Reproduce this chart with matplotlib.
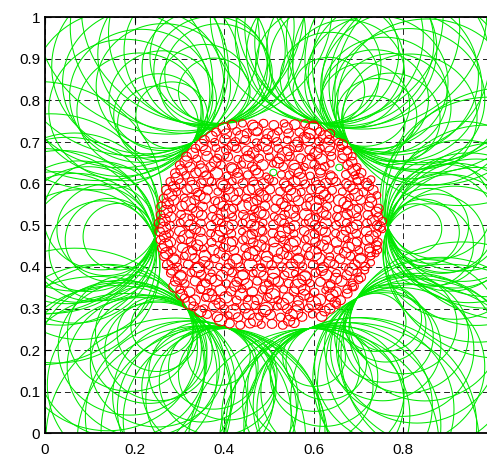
import numpy as np
import matplotlib
matplotlib.use('Agg')
import matplotlib.pyplot as plt
from matplotlib.collections import LineCollection

# corners of the red region where the green circles touch it
corner_x = [0.766, 0.680, 0.620, 0.400, 0.330, 0.245, 0.317, 0.410, 0.590, 0.697]
corner_y = [0.494, 0.696, 0.745, 0.745, 0.700, 0.470, 0.300, 0.252, 0.252, 0.325]

# green circles: (corner index, direction of centre in degrees, radius)
green_circles = [
    (0, -22, 0.16), (0, -15, 0.11), (0, -10, 0.20), (0, -5, 0.14), (0, 0, 0.18), (0, 3, 0.09),
    (0, 7, 0.22), (0, 10, 0.13), (0, 14, 0.17), (0, 18, 0.24), (0, 22, 0.12), (0, -18, 0.21),
    (0, -2, 0.06), (0, 5, 0.12), (0, -8, 0.08), (0, 12, 0.28), (0, -12, 0.26), (0, 2, 0.15),
    (0, -25, 0.10), (0, 25, 0.18),
    (1, 26, 0.15), (1, 30, 0.20), (1, 33, 0.11), (1, 36, 0.24), (1, 39, 0.17), (1, 42, 0.13),
    (1, 45, 0.21), (1, 48, 0.09), (1, 50, 0.18), (1, 53, 0.25), (1, 56, 0.14), (1, 59, 0.19),
    (1, 62, 0.12), (1, 65, 0.22), (1, 68, 0.16), (1, 70, 0.10),
    (1, 28, 0.28), (1, 40, 0.07), (1, 58, 0.30), (1, 47, 0.26),
    (2, 66, 0.13), (2, 70, 0.19), (2, 74, 0.24), (2, 78, 0.15), (2, 82, 0.11), (2, 86, 0.21),
    (2, 90, 0.17), (2, 94, 0.14), (2, 72, 0.28), (2, 80, 0.08), (2, 88, 0.26), (2, 76, 0.20),
    (3, 92, 0.16), (3, 96, 0.12), (3, 100, 0.22), (3, 104, 0.18), (3, 108, 0.14), (3, 112, 0.25),
    (3, 116, 0.10), (3, 119, 0.19), (3, 98, 0.28), (3, 106, 0.08), (3, 114, 0.30), (3, 102, 0.13),
    (4, 116, 0.15), (4, 120, 0.21), (4, 124, 0.12), (4, 128, 0.18), (4, 132, 0.24), (4, 136, 0.16),
    (4, 140, 0.10), (4, 144, 0.20), (4, 148, 0.14), (4, 153, 0.17),
    (4, 118, 0.28), (4, 126, 0.08), (4, 138, 0.28), (4, 150, 0.09), (4, 146, 0.26),
    (5, 156, 0.13), (5, 161, 0.19), (5, 166, 0.24), (5, 170, 0.11), (5, 175, 0.17), (5, 180, 0.21),
    (5, 185, 0.14), (5, 190, 0.26), (5, 195, 0.12), (5, 201, 0.18),
    (5, 178, 0.08), (5, 172, 0.15), (5, 183, 0.10), (5, 168, 0.20), (5, 188, 0.18), (5, 198, 0.23),
    (5, 160, 0.28),
    (6, 205, 0.14), (6, 208, 0.20), (6, 211, 0.11), (6, 214, 0.24), (6, 217, 0.16), (6, 220, 0.19),
    (6, 223, 0.09), (6, 226, 0.22), (6, 229, 0.13), (6, 232, 0.26), (6, 235, 0.17), (6, 238, 0.12),
    (6, 241, 0.21), (6, 244, 0.15), (6, 210, 0.29), (6, 218, 0.07), (6, 228, 0.30), (6, 240, 0.27),
    (7, 241, 0.12), (7, 244, 0.18), (7, 247, 0.23), (7, 250, 0.10), (7, 253, 0.15), (7, 256, 0.20),
    (7, 259, 0.13), (7, 262, 0.25), (7, 265, 0.17), (7, 269, 0.11),
    (7, 246, 0.29), (7, 252, 0.07), (7, 258, 0.28), (7, 266, 0.22),
    (8, 271, 0.14), (8, 274, 0.21), (8, 277, 0.10), (8, 280, 0.18), (8, 283, 0.24), (8, 286, 0.12),
    (8, 289, 0.16), (8, 292, 0.20), (8, 295, 0.09), (8, 298, 0.22),
    (8, 272, 0.28), (8, 279, 0.07), (8, 288, 0.29), (8, 296, 0.26),
    (9, 296, 0.13), (9, 300, 0.19), (9, 303, 0.11), (9, 306, 0.24), (9, 309, 0.16), (9, 312, 0.21),
    (9, 315, 0.09), (9, 318, 0.18), (9, 321, 0.14), (9, 325, 0.23), (9, 329, 0.12), (9, 333, 0.17),
    (9, 298, 0.28), (9, 304, 0.07), (9, 314, 0.29), (9, 323, 0.08), (9, 330, 0.27),
]

# two small green circles inside the red region
green_small = [(0.510, 0.627, 0.008), (0.657, 0.639, 0.008)]

# red circles (x, y, r), row by row from bottom to top
red_circles = [
    (0.412, 0.264, 0.011), (0.436, 0.260, 0.010), (0.458, 0.265, 0.012), (0.483, 0.261, 0.009),
    (0.507, 0.263, 0.011), (0.531, 0.260, 0.010), (0.556, 0.266, 0.012),
    (0.362, 0.286, 0.010), (0.385, 0.280, 0.012), (0.410, 0.284, 0.008), (0.431, 0.279, 0.011),
    (0.455, 0.286, 0.013), (0.479, 0.281, 0.009), (0.503, 0.285, 0.012), (0.526, 0.279, 0.010),
    (0.550, 0.284, 0.014), (0.574, 0.280, 0.011), (0.597, 0.286, 0.009), (0.618, 0.281, 0.012),
    (0.332, 0.305, 0.011), (0.355, 0.300, 0.009), (0.378, 0.306, 0.013), (0.401, 0.299, 0.010),
    (0.425, 0.304, 0.008), (0.447, 0.301, 0.012), (0.470, 0.307, 0.010), (0.494, 0.300, 0.015),
    (0.519, 0.305, 0.009), (0.541, 0.299, 0.011), (0.565, 0.306, 0.013), (0.589, 0.301, 0.010),
    (0.612, 0.304, 0.008), (0.636, 0.300, 0.012), (0.651, 0.309, 0.009),
    (0.312, 0.325, 0.010), (0.334, 0.320, 0.013), (0.358, 0.326, 0.009), (0.381, 0.321, 0.011),
    (0.404, 0.327, 0.014), (0.428, 0.320, 0.010), (0.452, 0.324, 0.008), (0.474, 0.321, 0.012),
    (0.497, 0.327, 0.010), (0.520, 0.320, 0.009), (0.543, 0.325, 0.013), (0.566, 0.319, 0.011),
    (0.590, 0.326, 0.010), (0.613, 0.321, 0.014), (0.637, 0.326, 0.009), (0.660, 0.320, 0.011),
    (0.301, 0.345, 0.009), (0.323, 0.340, 0.012), (0.347, 0.346, 0.010), (0.370, 0.339, 0.008),
    (0.392, 0.344, 0.013), (0.416, 0.341, 0.011), (0.440, 0.347, 0.009), (0.463, 0.340, 0.012),
    (0.486, 0.345, 0.010), (0.509, 0.339, 0.016), (0.533, 0.346, 0.009), (0.556, 0.341, 0.011),
    (0.579, 0.345, 0.013), (0.602, 0.339, 0.010), (0.626, 0.344, 0.008), (0.650, 0.340, 0.012),
    (0.675, 0.346, 0.010), (0.688, 0.352, 0.008),
    (0.291, 0.365, 0.011), (0.313, 0.360, 0.009), (0.336, 0.366, 0.012), (0.359, 0.361, 0.010),
    (0.382, 0.367, 0.014), (0.405, 0.360, 0.009), (0.428, 0.364, 0.011), (0.451, 0.359, 0.013),
    (0.474, 0.366, 0.010), (0.498, 0.361, 0.008), (0.521, 0.365, 0.012), (0.544, 0.360, 0.010),
    (0.568, 0.366, 0.015), (0.592, 0.361, 0.009), (0.615, 0.364, 0.011), (0.638, 0.359, 0.010),
    (0.662, 0.366, 0.013), (0.686, 0.362, 0.009), (0.700, 0.370, 0.010),
    (0.281, 0.385, 0.010), (0.303, 0.380, 0.012), (0.326, 0.386, 0.009), (0.349, 0.381, 0.011),
    (0.372, 0.385, 0.008), (0.395, 0.379, 0.013), (0.418, 0.386, 0.010), (0.442, 0.381, 0.012),
    (0.465, 0.385, 0.009), (0.488, 0.379, 0.011), (0.511, 0.386, 0.014), (0.535, 0.380, 0.010),
    (0.558, 0.384, 0.008), (0.581, 0.379, 0.012), (0.604, 0.386, 0.010), (0.628, 0.381, 0.013),
    (0.651, 0.385, 0.009), (0.674, 0.380, 0.011), (0.697, 0.386, 0.010), (0.714, 0.392, 0.009),
    (0.274, 0.405, 0.012), (0.297, 0.400, 0.009), (0.320, 0.406, 0.011), (0.343, 0.399, 0.013),
    (0.366, 0.404, 0.010), (0.389, 0.401, 0.008), (0.412, 0.407, 0.012), (0.436, 0.400, 0.010),
    (0.459, 0.405, 0.015), (0.483, 0.399, 0.009), (0.506, 0.404, 0.011), (0.529, 0.400, 0.010),
    (0.552, 0.406, 0.013), (0.576, 0.401, 0.009), (0.599, 0.405, 0.011), (0.622, 0.399, 0.012),
    (0.646, 0.406, 0.010), (0.669, 0.400, 0.008), (0.692, 0.405, 0.012), (0.715, 0.401, 0.010),
    (0.728, 0.410, 0.008),
    (0.266, 0.425, 0.010), (0.288, 0.420, 0.012), (0.311, 0.426, 0.009), (0.334, 0.421, 0.011),
    (0.357, 0.427, 0.013), (0.380, 0.420, 0.010), (0.403, 0.424, 0.009), (0.427, 0.419, 0.012),
    (0.450, 0.426, 0.010), (0.473, 0.421, 0.008), (0.496, 0.425, 0.013), (0.520, 0.420, 0.011),
    (0.543, 0.426, 0.009), (0.566, 0.421, 0.012), (0.589, 0.427, 0.010), (0.612, 0.420, 0.014),
    (0.636, 0.425, 0.009), (0.659, 0.419, 0.011), (0.682, 0.426, 0.010), (0.705, 0.421, 0.012),
    (0.728, 0.426, 0.009), (0.738, 0.432, 0.008),
    (0.262, 0.445, 0.011), (0.284, 0.440, 0.009), (0.307, 0.446, 0.012), (0.330, 0.439, 0.010),
    (0.353, 0.444, 0.008), (0.376, 0.441, 0.013), (0.399, 0.447, 0.010), (0.422, 0.440, 0.011),
    (0.446, 0.445, 0.009), (0.469, 0.439, 0.012), (0.492, 0.446, 0.010), (0.515, 0.441, 0.016),
    (0.539, 0.445, 0.009), (0.562, 0.440, 0.011), (0.585, 0.446, 0.010), (0.608, 0.439, 0.008),
    (0.632, 0.444, 0.012), (0.655, 0.441, 0.010), (0.678, 0.447, 0.013), (0.701, 0.440, 0.009),
    (0.724, 0.445, 0.011), (0.742, 0.441, 0.010),
    (0.258, 0.465, 0.010), (0.280, 0.460, 0.012), (0.303, 0.466, 0.009), (0.326, 0.461, 0.011),
    (0.349, 0.465, 0.014), (0.372, 0.459, 0.010), (0.395, 0.466, 0.008), (0.419, 0.461, 0.012),
    (0.442, 0.465, 0.010), (0.465, 0.459, 0.011), (0.488, 0.466, 0.009), (0.511, 0.460, 0.012),
    (0.534, 0.465, 0.010), (0.558, 0.461, 0.013), (0.581, 0.466, 0.009), (0.604, 0.460, 0.011),
    (0.628, 0.465, 0.010), (0.651, 0.459, 0.012), (0.674, 0.466, 0.008), (0.697, 0.461, 0.011),
    (0.720, 0.465, 0.013), (0.743, 0.460, 0.010),
    (0.256, 0.485, 0.011), (0.278, 0.480, 0.009), (0.301, 0.486, 0.012), (0.324, 0.479, 0.010),
    (0.347, 0.484, 0.011), (0.370, 0.481, 0.009), (0.393, 0.487, 0.013), (0.416, 0.480, 0.010),
    (0.440, 0.485, 0.008), (0.463, 0.479, 0.012), (0.486, 0.486, 0.010), (0.509, 0.481, 0.011),
    (0.533, 0.485, 0.015), (0.556, 0.480, 0.009), (0.579, 0.486, 0.011), (0.602, 0.479, 0.010),
    (0.626, 0.484, 0.012), (0.649, 0.481, 0.009), (0.672, 0.487, 0.011), (0.695, 0.480, 0.010),
    (0.718, 0.485, 0.012), (0.741, 0.481, 0.009), (0.753, 0.490, 0.008),
    (0.256, 0.505, 0.012), (0.279, 0.500, 0.010), (0.302, 0.506, 0.009), (0.325, 0.501, 0.013),
    (0.348, 0.505, 0.010), (0.371, 0.499, 0.011), (0.394, 0.506, 0.009), (0.418, 0.501, 0.012),
    (0.441, 0.505, 0.010), (0.464, 0.500, 0.014), (0.487, 0.506, 0.009), (0.510, 0.501, 0.011),
    (0.534, 0.505, 0.010), (0.557, 0.499, 0.012), (0.580, 0.506, 0.008), (0.603, 0.501, 0.011),
    (0.627, 0.505, 0.013), (0.650, 0.500, 0.010), (0.673, 0.506, 0.009), (0.696, 0.501, 0.012),
    (0.719, 0.505, 0.010), (0.742, 0.500, 0.011), (0.754, 0.510, 0.009),
    (0.258, 0.525, 0.010), (0.281, 0.520, 0.012), (0.304, 0.526, 0.010), (0.327, 0.519, 0.008),
    (0.350, 0.524, 0.012), (0.373, 0.521, 0.010), (0.396, 0.527, 0.013), (0.419, 0.520, 0.009),
    (0.443, 0.525, 0.011), (0.466, 0.519, 0.010), (0.489, 0.526, 0.012), (0.512, 0.521, 0.009),
    (0.535, 0.525, 0.011), (0.559, 0.520, 0.010), (0.582, 0.526, 0.014), (0.605, 0.519, 0.009),
    (0.628, 0.524, 0.011), (0.652, 0.521, 0.010), (0.675, 0.527, 0.012), (0.698, 0.520, 0.009),
    (0.721, 0.525, 0.011), (0.744, 0.520, 0.010),
    (0.260, 0.545, 0.011), (0.283, 0.540, 0.009), (0.306, 0.546, 0.012), (0.329, 0.541, 0.010),
    (0.352, 0.545, 0.011), (0.375, 0.539, 0.009), (0.398, 0.546, 0.012), (0.421, 0.541, 0.010),
    (0.445, 0.545, 0.016), (0.468, 0.539, 0.009), (0.491, 0.546, 0.011), (0.514, 0.541, 0.010),
    (0.537, 0.545, 0.012), (0.560, 0.540, 0.008), (0.584, 0.546, 0.011), (0.607, 0.541, 0.013),
    (0.630, 0.545, 0.010), (0.653, 0.539, 0.009), (0.676, 0.546, 0.012), (0.700, 0.541, 0.010),
    (0.723, 0.545, 0.011), (0.745, 0.541, 0.010),
    (0.265, 0.565, 0.010), (0.288, 0.560, 0.012), (0.311, 0.566, 0.009), (0.334, 0.561, 0.011),
    (0.357, 0.565, 0.013), (0.380, 0.559, 0.010), (0.403, 0.566, 0.009), (0.427, 0.561, 0.012),
    (0.450, 0.565, 0.010), (0.473, 0.560, 0.011), (0.496, 0.566, 0.009), (0.519, 0.561, 0.013),
    (0.542, 0.565, 0.010), (0.566, 0.559, 0.012), (0.589, 0.566, 0.009), (0.612, 0.561, 0.011),
    (0.635, 0.565, 0.010), (0.658, 0.560, 0.014), (0.681, 0.566, 0.009), (0.705, 0.561, 0.011),
    (0.728, 0.565, 0.010), (0.741, 0.572, 0.009),
    (0.271, 0.585, 0.011), (0.294, 0.580, 0.009), (0.317, 0.586, 0.012), (0.340, 0.579, 0.010),
    (0.363, 0.584, 0.011), (0.386, 0.581, 0.009), (0.409, 0.587, 0.012), (0.432, 0.580, 0.010),
    (0.456, 0.585, 0.013), (0.479, 0.579, 0.009), (0.502, 0.586, 0.011), (0.525, 0.581, 0.010),
    (0.548, 0.585, 0.012), (0.572, 0.580, 0.009), (0.595, 0.586, 0.011), (0.618, 0.579, 0.015),
    (0.641, 0.584, 0.010), (0.664, 0.581, 0.009), (0.688, 0.587, 0.012), (0.711, 0.580, 0.010),
    (0.733, 0.585, 0.011),
    (0.280, 0.605, 0.010), (0.303, 0.600, 0.012), (0.326, 0.606, 0.009), (0.349, 0.601, 0.011),
    (0.372, 0.605, 0.010), (0.395, 0.599, 0.013), (0.418, 0.606, 0.009), (0.442, 0.601, 0.011),
    (0.465, 0.605, 0.010), (0.488, 0.600, 0.012), (0.511, 0.606, 0.009), (0.534, 0.601, 0.011),
    (0.557, 0.605, 0.013), (0.581, 0.599, 0.010), (0.604, 0.606, 0.009), (0.627, 0.601, 0.012),
    (0.650, 0.605, 0.010), (0.673, 0.600, 0.011), (0.697, 0.606, 0.009), (0.718, 0.601, 0.012),
    (0.728, 0.610, 0.009),
    (0.291, 0.625, 0.011), (0.314, 0.620, 0.009), (0.337, 0.626, 0.012), (0.360, 0.621, 0.010),
    (0.383, 0.625, 0.014), (0.406, 0.619, 0.009), (0.430, 0.626, 0.011), (0.453, 0.621, 0.010),
    (0.476, 0.625, 0.012), (0.494, 0.618, 0.008), (0.528, 0.622, 0.009), (0.546, 0.621, 0.010),
    (0.569, 0.625, 0.013), (0.592, 0.619, 0.009), (0.615, 0.626, 0.011), (0.638, 0.621, 0.010),
    (0.672, 0.622, 0.010), (0.692, 0.620, 0.009), (0.706, 0.626, 0.011),
    (0.301, 0.645, 0.010), (0.324, 0.640, 0.012), (0.347, 0.646, 0.009), (0.370, 0.641, 0.011),
    (0.393, 0.645, 0.010), (0.416, 0.639, 0.012), (0.439, 0.646, 0.009), (0.463, 0.641, 0.011),
    (0.486, 0.645, 0.013), (0.509, 0.648, 0.008), (0.532, 0.641, 0.010), (0.556, 0.645, 0.012),
    (0.579, 0.640, 0.009), (0.602, 0.646, 0.011), (0.625, 0.641, 0.010), (0.638, 0.648, 0.008),
    (0.676, 0.645, 0.011), (0.697, 0.640, 0.009),
    (0.316, 0.665, 0.011), (0.339, 0.660, 0.009), (0.362, 0.666, 0.012), (0.385, 0.661, 0.010),
    (0.408, 0.665, 0.011), (0.431, 0.659, 0.009), (0.455, 0.666, 0.013), (0.478, 0.661, 0.010),
    (0.501, 0.665, 0.009), (0.524, 0.660, 0.012), (0.547, 0.666, 0.010), (0.571, 0.661, 0.011),
    (0.594, 0.665, 0.009), (0.617, 0.659, 0.013), (0.640, 0.666, 0.010), (0.664, 0.661, 0.011),
    (0.686, 0.666, 0.009),
    (0.336, 0.685, 0.010), (0.359, 0.680, 0.012), (0.382, 0.686, 0.009), (0.405, 0.681, 0.011),
    (0.428, 0.685, 0.010), (0.451, 0.679, 0.012), (0.475, 0.686, 0.009), (0.498, 0.681, 0.011),
    (0.521, 0.685, 0.010), (0.544, 0.680, 0.013), (0.568, 0.686, 0.009), (0.591, 0.681, 0.011),
    (0.614, 0.685, 0.010), (0.637, 0.679, 0.012), (0.660, 0.686, 0.009), (0.675, 0.680, 0.010),
    (0.356, 0.705, 0.011), (0.379, 0.700, 0.009), (0.402, 0.706, 0.012), (0.425, 0.701, 0.010),
    (0.448, 0.705, 0.011), (0.472, 0.699, 0.009), (0.495, 0.706, 0.012), (0.518, 0.701, 0.010),
    (0.541, 0.705, 0.009), (0.565, 0.700, 0.012), (0.588, 0.706, 0.015), (0.612, 0.701, 0.010),
    (0.635, 0.705, 0.011), (0.656, 0.700, 0.009),
    (0.382, 0.724, 0.010), (0.405, 0.720, 0.012), (0.428, 0.726, 0.009), (0.451, 0.721, 0.011),
    (0.474, 0.725, 0.010), (0.498, 0.720, 0.012), (0.521, 0.726, 0.009), (0.544, 0.721, 0.011),
    (0.568, 0.724, 0.010), (0.591, 0.720, 0.013), (0.614, 0.725, 0.010), (0.636, 0.720, 0.011),
    (0.418, 0.742, 0.011), (0.441, 0.745, 0.009), (0.464, 0.741, 0.012), (0.488, 0.745, 0.010),
    (0.511, 0.741, 0.011), (0.534, 0.745, 0.009), (0.558, 0.742, 0.012), (0.581, 0.744, 0.010),
    (0.600, 0.740, 0.011),
]

# second layer of larger red circles lying between the rows
red_extra = [
    (0.392, 0.272, 0.014), (0.470, 0.273, 0.016), (0.545, 0.271, 0.013),
    (0.347, 0.293, 0.013), (0.420, 0.292, 0.017), (0.490, 0.294, 0.014), (0.560, 0.291, 0.016),
    (0.625, 0.294, 0.012),
    (0.322, 0.313, 0.015), (0.390, 0.312, 0.013), (0.460, 0.314, 0.018), (0.531, 0.311, 0.014),
    (0.600, 0.313, 0.016), (0.648, 0.315, 0.012),
    (0.305, 0.333, 0.013), (0.368, 0.332, 0.016), (0.438, 0.334, 0.014), (0.508, 0.331, 0.017),
    (0.578, 0.333, 0.013), (0.640, 0.332, 0.015), (0.675, 0.336, 0.011),
    (0.290, 0.353, 0.014), (0.356, 0.352, 0.017), (0.425, 0.354, 0.013), (0.495, 0.351, 0.015),
    (0.565, 0.353, 0.018), (0.635, 0.352, 0.013), (0.688, 0.354, 0.012),
    (0.302, 0.373, 0.016), (0.370, 0.372, 0.013), (0.440, 0.374, 0.017), (0.510, 0.371, 0.014),
    (0.580, 0.373, 0.016), (0.650, 0.372, 0.013), (0.705, 0.375, 0.011),
    (0.285, 0.393, 0.013), (0.340, 0.392, 0.017), (0.408, 0.394, 0.014), (0.478, 0.391, 0.016),
    (0.548, 0.393, 0.019), (0.618, 0.392, 0.013), (0.684, 0.394, 0.015),
    (0.288, 0.413, 0.016), (0.356, 0.412, 0.013), (0.425, 0.414, 0.017), (0.495, 0.411, 0.014),
    (0.565, 0.413, 0.016), (0.635, 0.412, 0.013), (0.704, 0.414, 0.016),
    (0.272, 0.433, 0.014), (0.322, 0.432, 0.017), (0.390, 0.434, 0.013), (0.460, 0.431, 0.016),
    (0.530, 0.433, 0.014), (0.600, 0.432, 0.018), (0.670, 0.434, 0.013), (0.726, 0.436, 0.012),
    (0.270, 0.453, 0.015), (0.340, 0.452, 0.013), (0.410, 0.454, 0.017), (0.480, 0.451, 0.014),
    (0.550, 0.453, 0.016), (0.620, 0.452, 0.013), (0.690, 0.454, 0.016), (0.740, 0.452, 0.011),
    (0.268, 0.473, 0.013), (0.315, 0.472, 0.017), (0.385, 0.474, 0.014), (0.455, 0.471, 0.016),
    (0.525, 0.473, 0.013), (0.595, 0.472, 0.018), (0.665, 0.474, 0.014), (0.730, 0.472, 0.015),
    (0.266, 0.493, 0.015), (0.335, 0.492, 0.013), (0.405, 0.494, 0.016), (0.475, 0.491, 0.018),
    (0.545, 0.493, 0.013), (0.615, 0.492, 0.016), (0.685, 0.494, 0.014), (0.748, 0.497, 0.012),
    (0.266, 0.513, 0.014), (0.315, 0.512, 0.016), (0.385, 0.514, 0.013), (0.455, 0.511, 0.017),
    (0.525, 0.513, 0.014), (0.595, 0.512, 0.016), (0.665, 0.514, 0.019), (0.732, 0.512, 0.013),
    (0.270, 0.533, 0.015), (0.340, 0.532, 0.013), (0.410, 0.534, 0.017), (0.480, 0.531, 0.014),
    (0.550, 0.533, 0.016), (0.620, 0.532, 0.013), (0.690, 0.534, 0.016), (0.740, 0.532, 0.012),
    (0.274, 0.553, 0.013), (0.320, 0.552, 0.017), (0.390, 0.554, 0.014), (0.460, 0.551, 0.016),
    (0.530, 0.553, 0.013), (0.600, 0.552, 0.018), (0.670, 0.554, 0.014), (0.728, 0.556, 0.013),
    (0.280, 0.573, 0.015), (0.345, 0.572, 0.013), (0.415, 0.574, 0.017), (0.485, 0.571, 0.014),
    (0.555, 0.573, 0.016), (0.625, 0.572, 0.013), (0.695, 0.574, 0.015),
    (0.288, 0.593, 0.013), (0.330, 0.592, 0.016), (0.400, 0.594, 0.014), (0.470, 0.591, 0.018),
    (0.540, 0.593, 0.013), (0.610, 0.592, 0.016), (0.680, 0.594, 0.013), (0.722, 0.595, 0.012),
    (0.295, 0.613, 0.014), (0.360, 0.612, 0.017), (0.430, 0.614, 0.013), (0.500, 0.611, 0.010),
    (0.570, 0.611, 0.016), (0.640, 0.613, 0.014), (0.700, 0.612, 0.013),
    (0.305, 0.633, 0.013), (0.350, 0.632, 0.016), (0.420, 0.634, 0.014), (0.470, 0.633, 0.012),
    (0.560, 0.633, 0.016), (0.615, 0.634, 0.013), (0.690, 0.633, 0.014),
    (0.315, 0.653, 0.014), (0.380, 0.652, 0.013), (0.450, 0.654, 0.017), (0.520, 0.651, 0.013),
    (0.590, 0.653, 0.016), (0.685, 0.652, 0.012),
    (0.330, 0.673, 0.013), (0.395, 0.672, 0.016), (0.465, 0.674, 0.013), (0.535, 0.671, 0.017),
    (0.605, 0.673, 0.014), (0.670, 0.672, 0.016),
    (0.350, 0.693, 0.014), (0.420, 0.692, 0.013), (0.490, 0.694, 0.016), (0.560, 0.691, 0.014),
    (0.630, 0.693, 0.017), (0.664, 0.694, 0.012),
    (0.372, 0.713, 0.013), (0.440, 0.712, 0.016), (0.510, 0.714, 0.014), (0.580, 0.711, 0.013),
    (0.625, 0.713, 0.015),
    (0.400, 0.733, 0.014), (0.470, 0.732, 0.016), (0.540, 0.734, 0.013), (0.598, 0.728, 0.020),
]

xticks = [0, 0.2, 0.4, 0.6, 0.8]
xtick_labels = ['0', '0.2', '0.4', '0.6', '0.8']
yticks = [0, 0.1, 0.2, 0.3, 0.4, 0.5, 0.6, 0.7, 0.8, 0.9, 1.0]
ytick_labels = ['0', '0.1', '0.2', '0.3', '0.4', '0.5', '0.6', '0.7', '0.8', '0.9', '1']


def circle(cx, cy, r, n):
    t = np.linspace(0, 2 * np.pi, n + 1)
    return np.column_stack([cx + r * np.cos(t), cy + r * np.sin(t)])


plt.rcParams['font.family'] = ['Liberation Sans', 'DejaVu Sans']

fig = plt.figure(figsize=(4.87, 4.57), dpi=100)
ax = fig.add_axes([45 / 487, 23.7 / 457, 442 / 487, 416 / 457])

# green circles hanging on the corners of the red region
green_segs = []
for k, ang, r in green_circles:
    a = np.deg2rad(ang)
    cx = corner_x[k] + r * np.cos(a)
    cy = corner_y[k] + r * np.sin(a)
    green_segs.append(circle(cx, cy, r, 120))
for cx, cy, r in green_small:
    green_segs.append(circle(cx, cy, r, 12))
ax.add_collection(LineCollection(green_segs, colors='#00e800', linewidths=0.75, zorder=2))

# red circles
red_x, red_y, red_r = np.array(red_circles + red_extra).T
red_segs = [circle(x, y, r, 11) for x, y, r in zip(red_x, red_y, red_r)]
ax.add_collection(LineCollection(red_segs, colors='#ff0000', linewidths=0.8, zorder=3))

ax.set_xlim(0, 0.987)
ax.set_ylim(0, 1)
ax.set_xticks(xticks)
ax.set_xticklabels(xtick_labels)
ax.set_yticks(yticks)
ax.set_yticklabels(ytick_labels)
ax.grid(True, color='#222222', linestyle=(0, (6, 4)), linewidth=0.7, zorder=1)
ax.set_axisbelow(True)

ax.tick_params(direction='in', length=4, width=0.8, labelsize=11, top=True)
ax.tick_params(axis='x', pad=7)
ax.tick_params(axis='y', pad=3.5)
for side in ['left', 'bottom', 'top']:
    ax.spines[side].set_linewidth(1.3)
ax.spines['right'].set_visible(False)

fig.savefig('out.png', dpi=100)
